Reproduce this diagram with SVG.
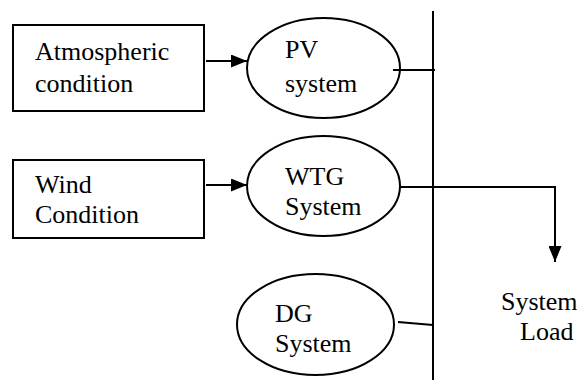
<svg xmlns="http://www.w3.org/2000/svg" width="577" height="383" viewBox="0 0 577 383">
<style>
.s{fill:none;stroke:#000;stroke-width:2}
.t{font-family:'Liberation Serif','Times New Roman',serif;font-size:26px;fill:#000}
</style>
<defs>
<marker id="ah" viewBox="0 0 16 13" refX="16" refY="6.5" markerWidth="16" markerHeight="13" markerUnits="userSpaceOnUse" orient="auto"><path d="M0,0L16,6.5L0,13z" fill="#000"/></marker>
</defs>
<rect width="577" height="383" fill="#fff"/>
<g id="atmo"><rect class="s" x="13" y="25" width="191" height="86"/><text class="t" x="35" y="60">Atmospheric</text><text class="t" x="35" y="92">condition</text></g>
<g id="wind"><rect class="s" x="13" y="160" width="191" height="78"/><text class="t" x="35" y="193">Wind</text><text class="t" x="35" y="223">Condition</text></g>
<g id="pv"><ellipse class="s" cx="323.5" cy="68" rx="76.5" ry="50"/><text class="t" x="285" y="58">PV</text><text class="t" x="285" y="92">system</text></g>
<g id="wtg"><ellipse class="s" cx="323.5" cy="186" rx="76.5" ry="50"/><text class="t" x="285" y="185">WTG</text><text class="t" x="285" y="215">System</text></g>
<g id="dg"><ellipse class="s" cx="315.5" cy="324.5" rx="78.5" ry="50.5"/><text class="t" x="275" y="322">DG</text><text class="t" x="275" y="352">System</text></g>
<g id="load"><text class="t" x="501" y="310">System</text><text class="t" x="520" y="340">Load</text></g>
<g id="connectors">
<line class="s" x1="433" y1="11" x2="433" y2="380"/>
<line class="s" x1="206" y1="61" x2="247" y2="61" marker-end="url(#ah)"/>
<line class="s" x1="206" y1="185" x2="247" y2="185" marker-end="url(#ah)"/>
<line class="s" x1="393" y1="70" x2="435" y2="70"/>
<polyline class="s" points="400,187 555,187 555,262" marker-end="url(#ah)"/>
<line class="s" x1="398" y1="322" x2="433" y2="325"/>
</g>
</svg>
